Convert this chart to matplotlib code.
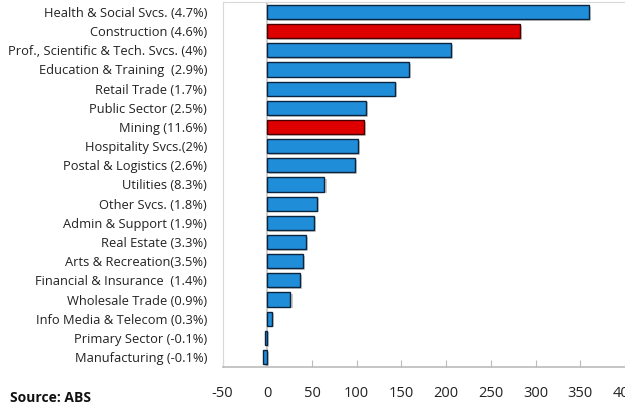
import matplotlib.pyplot as plt
import matplotlib.patheffects as pe

plt.rcParams['font.family'] = ['Open Sans', 'DejaVu Sans']
plt.rcParams['axes.unicode_minus'] = False

industries = [
    "Health & Social Svcs. (4.7%)",
    "Construction (4.6%)",
    "Prof., Scientific & Tech. Svcs. (4%)",
    "Education & Training  (2.9%)",
    "Retail Trade (1.7%)",
    "Public Sector (2.5%)",
    "Mining (11.6%)",
    "Hospitality Svcs.(2%)",
    "Postal & Logistics (2.6%)",
    "Utilities (8.3%)",
    "Other Svcs. (1.8%)",
    "Admin & Support (1.9%)",
    "Real Estate (3.3%)",
    "Arts & Recreation(3.5%)",
    "Financial & Insurance  (1.4%)",
    "Wholesale Trade (0.9%)",
    "Info Media & Telecom (0.3%)",
    "Primary Sector (-0.1%)",
    "Manufacturing (-0.1%)",
]
change = [360, 283, 205, 158, 143, 110, 108, 101, 98, 64,
          56, 52, 43, 40, 37, 26, 5, -2, -4.5]
highlight = ["Construction (4.6%)", "Mining (11.6%)"]

blue = "#1f8dd8"
red = "#de0000"
colours = [red if name in highlight else blue for name in industries]
edges = ["#4a0000" if name in highlight else "#0b2440" for name in industries]

fig = plt.figure(figsize=(6.25, 4.09), dpi=100)
ax = fig.add_axes([0.356, 0.1027, 0.644, 0.8924])

ypos = list(range(len(industries)))
bars = ax.barh(ypos, change, height=0.74, color=colours, edgecolor=edges,
               linewidth=1.0, zorder=3)
for b in bars:
    b.set_path_effects([pe.SimplePatchShadow(offset=(1.5, -1.2), shadow_rgbFace="#999999", alpha=0.5),
                        pe.Normal()])

ax.set_yticks(ypos)
ax.set_yticklabels(industries, fontsize=9.3, color="#222222")
ax.set_ylim(len(industries) - 0.48, -0.52)
ax.set_xlim(-50, 400)
ax.set_xticks(range(-50, 401, 50))
ax.tick_params(axis="y", length=0, pad=11)
ax.tick_params(axis="x", direction="in", length=5, color="#bbbbbb",
               labelsize=10.5, labelcolor="#222222", pad=14)

ax.axvline(0, color="#c4c4c4", linewidth=1.2, zorder=2)
for side in ["left", "top"]:
    ax.spines[side].set_color("#d8d8d8")
ax.spines["bottom"].set_color("#bbbbbb")
ax.spines["bottom"].set_linewidth(1.2)
ax.spines["right"].set_visible(False)

fig.text(0.016, 0.027, "Source: ABS", fontsize=10, fontweight="bold",
         color="#111111", va="center")

fig.savefig("out.png", dpi=100)
